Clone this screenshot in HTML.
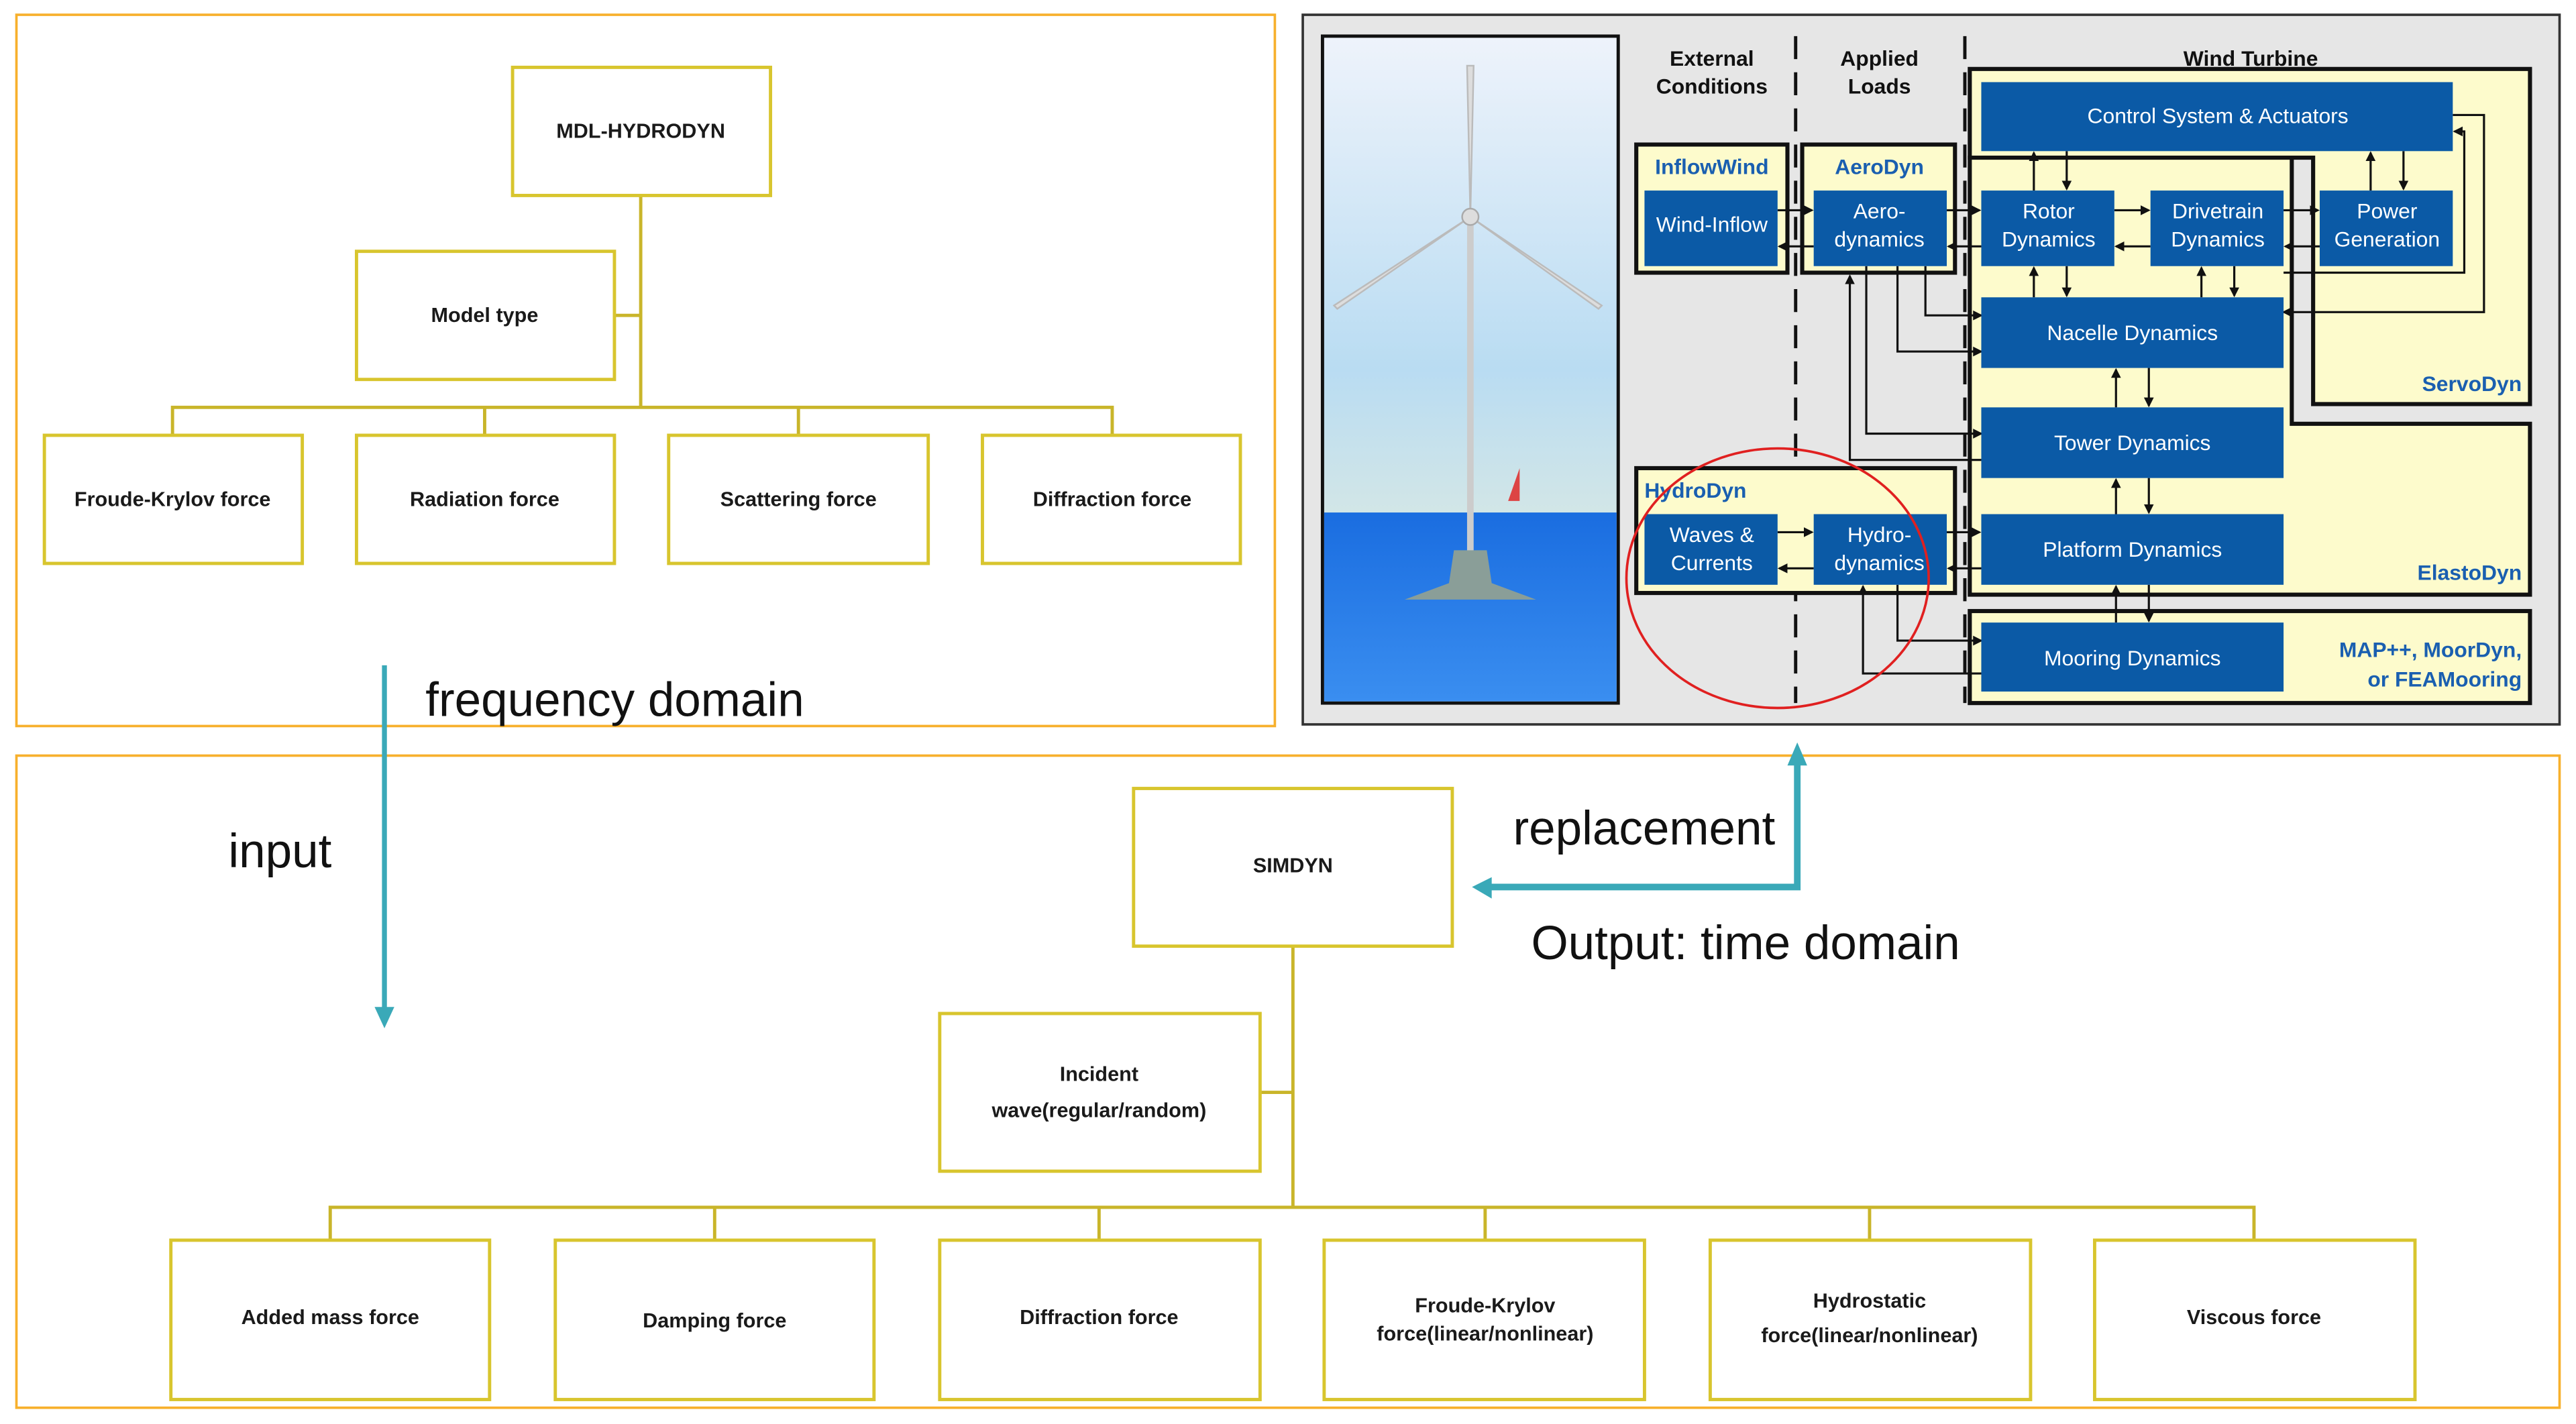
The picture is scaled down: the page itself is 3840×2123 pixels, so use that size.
<!DOCTYPE html>
<html><head><meta charset="utf-8"><style>
html,body{margin:0;padding:0;background:#fff}
svg{display:block}
.b{font-family:"Liberation Sans",sans-serif;font-size:12.5px;font-weight:bold;fill:#1a1a1a;text-anchor:middle}
.big{font-family:"Liberation Sans",sans-serif;font-size:29px;fill:#111}
.w{font-family:"Liberation Sans",sans-serif;font-size:13px;fill:#fff;text-anchor:middle}
.h{font-family:"Liberation Sans",sans-serif;font-size:13px;font-weight:bold;fill:#111;text-anchor:middle}
.bl{font-family:"Liberation Sans",sans-serif;font-size:13px;font-weight:bold;fill:#1a5fb0}
.nb{fill:none;stroke:#d8c52e;stroke-width:2}
.ln{stroke:#c9b52a;stroke-width:2;fill:none}
.bx{fill:#0b5aa6}
.k{stroke:#111;stroke-width:1.3;fill:none}
</style></head><body>
<svg width="3840" height="2123" viewBox="0 0 1568 866.9" xmlns="http://www.w3.org/2000/svg">
<defs>
<linearGradient id="sky" x1="0" y1="0" x2="0" y2="1"><stop offset="0" stop-color="#eef3fb"/><stop offset="0.5" stop-color="#b9dcf2"/><stop offset="1" stop-color="#f3f3d8"/></linearGradient>
<linearGradient id="sea" x1="0" y1="0" x2="0" y2="1"><stop offset="0" stop-color="#1a6de0"/><stop offset="1" stop-color="#3a8ef0"/></linearGradient>
<marker id="ar" markerWidth="6" markerHeight="6" refX="5" refY="3" orient="auto" markerUnits="userSpaceOnUse"><path d="M0,0 L6,3 L0,6z" fill="#111"/></marker>
</defs>
<rect x="10" y="9" width="766" height="433" fill="none" stroke="#f7b02c" stroke-width="1.5"/>
<rect x="10" y="460" width="1548" height="397" fill="none" stroke="#f7b02c" stroke-width="1.5"/>
<path class="ln" d="M390,119 V248 M374,192 H390 M105,265 V248 H677 V265 M295,248 V265 M486,248 V265"/>
<rect class="nb" x="312" y="41" width="157" height="78"/>
<rect class="nb" x="217" y="153" width="157" height="78"/>
<rect class="nb" x="27" y="265" width="157" height="78"/>
<rect class="nb" x="217" y="265" width="157" height="78"/>
<rect class="nb" x="407" y="265" width="158" height="78"/>
<rect class="nb" x="598" y="265" width="157" height="78"/>
<text class="b" x="390" y="84">MDL-HYDRODYN</text>
<text class="b" x="295" y="196">Model type</text>
<text class="b" x="105" y="308">Froude-Krylov force</text>
<text class="b" x="295" y="308">Radiation force</text>
<text class="b" x="486" y="308">Scattering force</text>
<text class="b" x="677" y="308">Diffraction force</text>
<line x1="234" y1="405" x2="234" y2="615" stroke="#3aa9b8" stroke-width="3"/>
<path d="M228,613 L240,613 L234,626z" fill="#3aa9b8"/>
<text class="big" x="259" y="436">frequency domain</text>
<text class="big" x="139" y="528">input</text>
<path d="M1094,465 V540 H906" stroke="#3aa9b8" stroke-width="4" fill="none"/>
<path d="M1088,466 L1100,466 L1094,452z" fill="#3aa9b8"/>
<path d="M908,534 L908,547 L896,540z" fill="#3aa9b8"/>
<text class="big" x="921" y="514">replacement</text>
<text class="big" x="932" y="584">Output: time domain</text>
<path class="ln" d="M787,576 V735 M767,665 H787 M201,755 V735 H1372 V755 M435,735 V755 M669,735 V755 M904,735 V755 M1138,735 V755"/>
<rect class="nb" x="690" y="480" width="194" height="96"/>
<rect class="nb" x="572" y="617" width="195" height="96"/>
<rect class="nb" x="104" y="755" width="194" height="97"/>
<rect class="nb" x="338" y="755" width="194" height="97"/>
<rect class="nb" x="572" y="755" width="195" height="97"/>
<rect class="nb" x="806" y="755" width="195" height="97"/>
<rect class="nb" x="1041" y="755" width="195" height="97"/>
<rect class="nb" x="1275" y="755" width="195" height="97"/>
<text class="b" x="787" y="531">SIMDYN</text>
<text class="b" x="669" y="658">Incident</text>
<text class="b" x="669" y="680">wave(regular/random)</text>
<text class="b" x="201" y="806">Added mass force</text>
<text class="b" x="435" y="808">Damping force</text>
<text class="b" x="669" y="806">Diffraction force</text>
<text class="b" x="904" y="799">Froude-Krylov</text>
<text class="b" x="904" y="816">force(linear/nonlinear)</text>
<text class="b" x="1138" y="796">Hydrostatic</text>
<text class="b" x="1138" y="817">force(linear/nonlinear)</text>
<text class="b" x="1372" y="806">Viscous force</text>
<rect x="793" y="9" width="765" height="432" fill="#e6e6e6" stroke="#333" stroke-width="1.5"/>
<rect x="805" y="22" width="180" height="406" fill="url(#sky)" stroke="#111" stroke-width="2"/>
<rect x="806" y="312" width="178" height="115" fill="url(#sea)"/>
<line x1="895" y1="130" x2="895" y2="340" stroke="#ccc" stroke-width="4"/>
<path d="M895,132 L897,40 L893,40z M895,132 L812,186 L814,188z M895,132 L975,186 L973,188z" fill="#ddd" stroke="#bbb" stroke-width="1"/>
<circle cx="895" cy="132" r="5" fill="#ddd" stroke="#aaa"/>
<path d="M885,335 L905,335 L908,355 L935,365 L855,365 L882,355z" fill="#8a9e98"/>
<path d="M925,285 L925,305 L918,305z" fill="#d44"/>
<line x1="1093" y1="22" x2="1093" y2="428" stroke="#111" stroke-width="2" stroke-dasharray="14,8"/>
<line x1="1196" y1="22" x2="1196" y2="428" stroke="#111" stroke-width="2" stroke-dasharray="14,8"/>
<text class="h" x="1042" y="40">External</text><text class="h" x="1042" y="57">Conditions</text>
<text class="h" x="1144" y="40">Applied</text><text class="h" x="1144" y="57">Loads</text>
<text class="h" x="1370" y="40">Wind Turbine</text>
<path d="M1199,42 H1540 V246 H1408 V96 H1199z" fill="#fdfbcc" stroke="#111" stroke-width="2.5"/>
<path d="M1199,96 H1395 V258 H1540 V362 H1199z" fill="#fdfbcc" stroke="#111" stroke-width="2.5"/>
<rect x="1199" y="372" width="341" height="56" fill="#fdfbcc" stroke="#111" stroke-width="2.5"/>
<rect x="996" y="88" width="92" height="78" fill="#fdfbcc" stroke="#111" stroke-width="2.5"/>
<rect x="1097" y="88" width="93" height="78" fill="#fdfbcc" stroke="#111" stroke-width="2.5"/>
<rect x="996" y="285" width="194" height="76" fill="#fdfbcc" stroke="#111" stroke-width="2.5"/>
<text class="bl" x="1042" y="106" text-anchor="middle">InflowWind</text>
<text class="bl" x="1144" y="106" text-anchor="middle">AeroDyn</text>
<text class="bl" x="1001" y="303">HydroDyn</text>
<text class="bl" x="1535" y="238" text-anchor="end">ServoDyn</text>
<text class="bl" x="1535" y="353" text-anchor="end">ElastoDyn</text>
<text class="bl" x="1535" y="400" text-anchor="end">MAP++, MoorDyn,</text>
<text class="bl" x="1535" y="418" text-anchor="end">or FEAMooring</text>
<g class="k">
<path d="M1493,70 H1512 V190 H1390" marker-end="url(#ar)"/>
<path d="M1390,166 H1500 V80 H1494" marker-end="url(#ar)"/>
<path d="M1136,162 V264 H1206" marker-end="url(#ar)"/>
<path d="M1155,162 V214 H1206" marker-end="url(#ar)"/>
<path d="M1172,162 V192 H1206" marker-end="url(#ar)"/>
<path d="M1206,280 H1126 V168" marker-end="url(#ar)"/>
<path d="M1155,356 V390 H1206" marker-end="url(#ar)"/>
<path d="M1206,410 H1134 V357" marker-end="url(#ar)"/>
<path d="M1082,128 H1103" marker-end="url(#ar)"/><path d="M1104,150 H1083" marker-end="url(#ar)"/>
<path d="M1185,128 H1205" marker-end="url(#ar)"/><path d="M1206,150 H1186" marker-end="url(#ar)"/>
<path d="M1287,128 H1308" marker-end="url(#ar)"/><path d="M1309,150 H1288" marker-end="url(#ar)"/>
<path d="M1390,128 H1411" marker-end="url(#ar)"/><path d="M1412,150 H1391" marker-end="url(#ar)"/>
<path d="M1082,324 H1103" marker-end="url(#ar)"/><path d="M1104,346 H1083" marker-end="url(#ar)"/>
<path d="M1185,324 H1205" marker-end="url(#ar)"/><path d="M1206,346 H1186" marker-end="url(#ar)"/>
<path d="M1238,116 V93" marker-end="url(#ar)"/><path d="M1258,92 V115" marker-end="url(#ar)"/>
<path d="M1443,116 V93" marker-end="url(#ar)"/><path d="M1463,92 V115" marker-end="url(#ar)"/>
<path d="M1238,181 V163" marker-end="url(#ar)"/><path d="M1258,162 V180" marker-end="url(#ar)"/>
<path d="M1340,181 V163" marker-end="url(#ar)"/><path d="M1360,162 V180" marker-end="url(#ar)"/>
<path d="M1288,248 V225" marker-end="url(#ar)"/><path d="M1308,224 V247" marker-end="url(#ar)"/>
<path d="M1288,313 V292" marker-end="url(#ar)"/><path d="M1308,291 V312" marker-end="url(#ar)"/>
<path d="M1288,379 V357" marker-end="url(#ar)"/><path d="M1308,356 V378" marker-end="url(#ar)"/>
</g>
<rect class="bx" x="1206" y="50" width="287" height="42"/>
<rect class="bx" x="1001" y="116" width="81" height="46"/>
<rect class="bx" x="1104" y="116" width="81" height="46"/>
<rect class="bx" x="1206" y="116" width="81" height="46"/>
<rect class="bx" x="1309" y="116" width="81" height="46"/>
<rect class="bx" x="1412" y="116" width="81" height="46"/>
<rect class="bx" x="1206" y="181" width="184" height="43"/>
<rect class="bx" x="1206" y="248" width="184" height="43"/>
<rect class="bx" x="1206" y="313" width="184" height="43"/>
<rect class="bx" x="1206" y="379" width="184" height="42"/>
<rect class="bx" x="1001" y="313" width="81" height="43"/>
<rect class="bx" x="1104" y="313" width="81" height="43"/>
<text class="w" x="1350" y="75">Control System &amp; Actuators</text>
<text class="w" x="1042" y="141">Wind-Inflow</text>
<text class="w" x="1144" y="133">Aero-</text><text class="w" x="1144" y="150">dynamics</text>
<text class="w" x="1247" y="133">Rotor</text><text class="w" x="1247" y="150">Dynamics</text>
<text class="w" x="1350" y="133">Drivetrain</text><text class="w" x="1350" y="150">Dynamics</text>
<text class="w" x="1453" y="133">Power</text><text class="w" x="1453" y="150">Generation</text>
<text class="w" x="1298" y="207">Nacelle Dynamics</text>
<text class="w" x="1298" y="274">Tower Dynamics</text>
<text class="w" x="1298" y="339">Platform Dynamics</text>
<text class="w" x="1298" y="405">Mooring Dynamics</text>
<text class="w" x="1042" y="330">Waves &amp;</text><text class="w" x="1042" y="347">Currents</text>
<text class="w" x="1144" y="330">Hydro-</text><text class="w" x="1144" y="347">dynamics</text>
<ellipse cx="1082" cy="352" rx="92" ry="79" fill="none" stroke="#e02020" stroke-width="1.5"/>
</svg>
</body></html>
